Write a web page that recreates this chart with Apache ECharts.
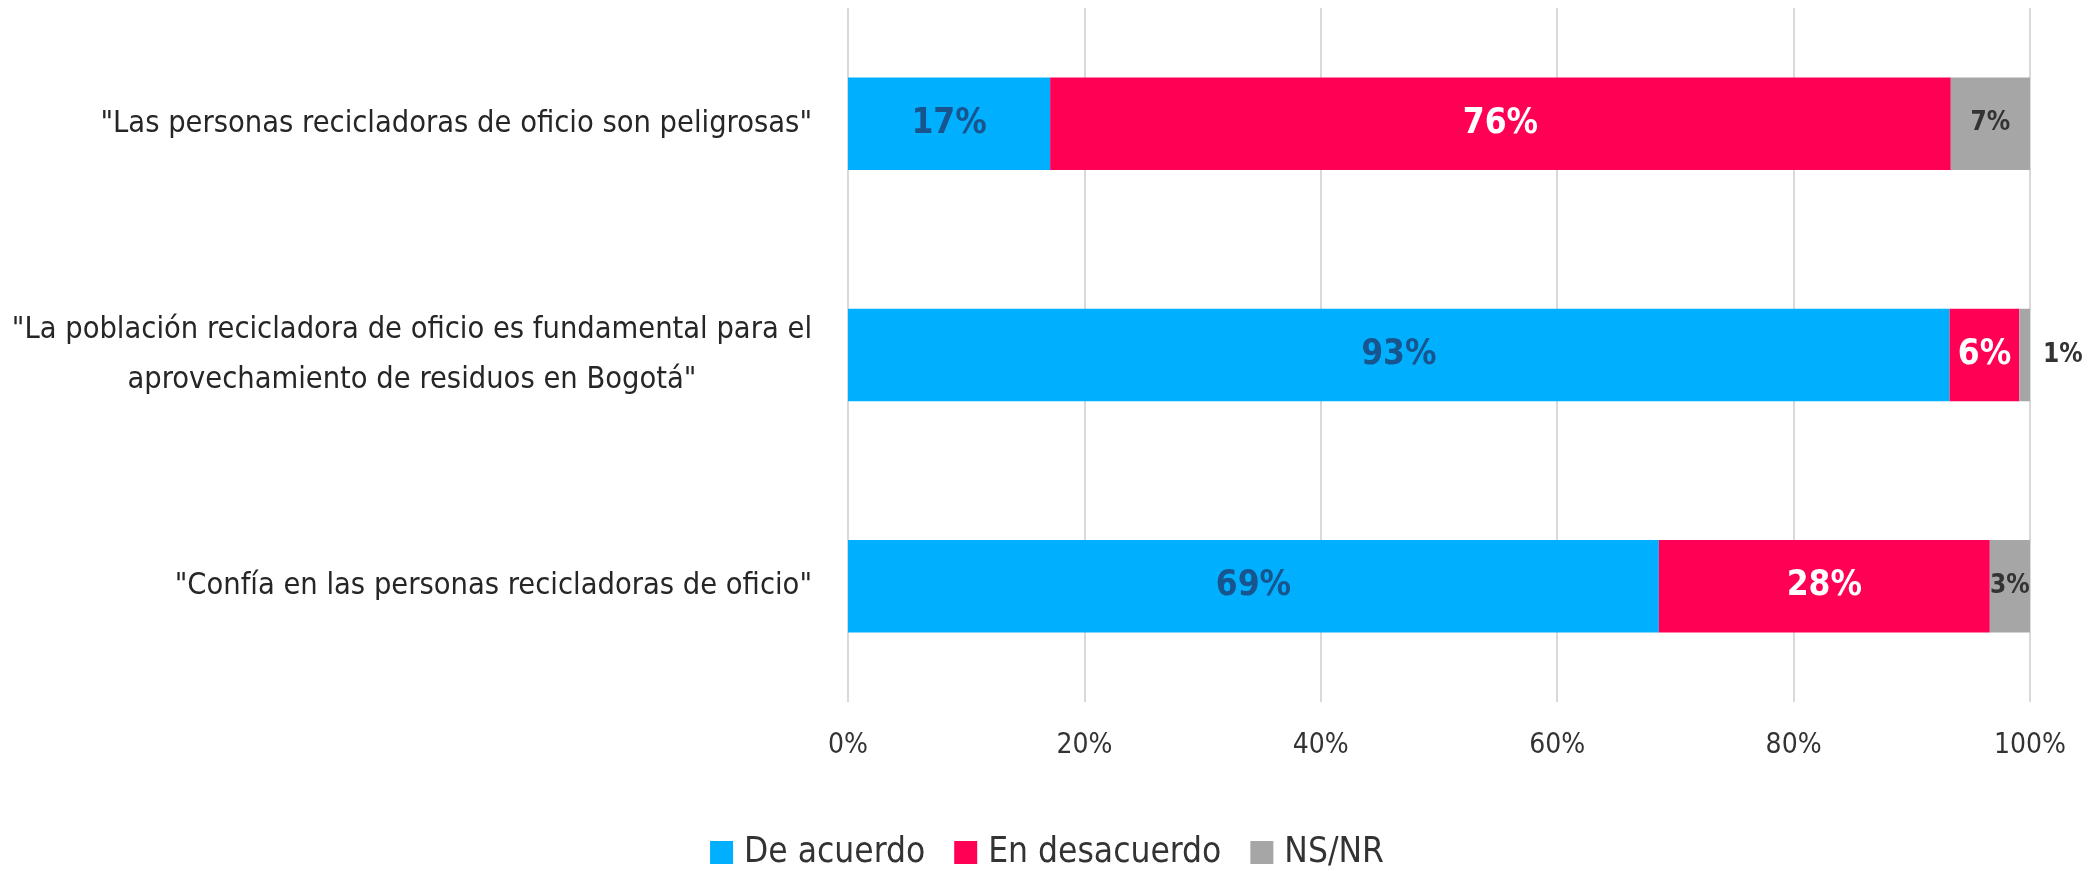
<!DOCTYPE html>
<html><head><meta charset="utf-8">
<script src="https://cdn.jsdelivr.net/npm/echarts@6/dist/echarts.min.js"></script>
<style>html,body{margin:0;padding:0;background:#fff}#c{width:2094px;height:871px}</style>
</head><body><div id="c"></div>
<script>
const categories = [
  '"Las personas recicladoras de oficio son peligrosas"',
  '"La población recicladora de oficio es fundamental para el\naprovechamiento de residuos en Bogotá"',
  '"Confía en las personas recicladoras de oficio"'
];
const seriesNames = ['De acuerdo', 'En desacuerdo', 'NS/NR'];
const deAcuerdo = [17.1, 93.2, 68.6];
const enDesacuerdo = [76.2, 5.9, 28.0];
const nsnr = [6.7, 0.9, 3.4];
const xTicks = ['0%', '20%', '40%', '60%', '80%', '100%'];

const FONT = '"DejaVu Sans Condensed", "Liberation Sans Narrow", sans-serif';
const colors = ['#00B0FF', '#FF0055', '#A6A6A6'];
const labelColors = ['#18558E', '#FFFFFF', '#333333'];

function mk(name, vals, idx) {
  return {
    name: name, type: 'bar', stack: 'total', barCategoryGap: '60%',
    itemStyle: { color: colors[idx] },
    label: {
      show: true, position: 'inside', color: labelColors[idx],
      fontFamily: FONT, fontWeight: 'bold', fontSize: idx === 2 ? 26 : 35,
      formatter: p => Math.round(p.value) + '%'
    },
    data: vals.map((v, i) => {
      if (idx === 2 && v < 2) {
        return { value: v, label: { position: 'right', distance: 13, color: '#333333', fontSize: 26 } };
      }
      return v;
    })
  };
}

const chart = echarts.init(document.getElementById('c'));
chart.setOption({
  animation: false,
  grid: { left: 848, right: 64, top: 8, bottom: 169 },
  legend: {
    top: 830, left: 'center', itemWidth: 23, itemHeight: 23, itemGap: 29,
    icon: 'rect',
    textStyle: { fontFamily: FONT, fontSize: 35, color: '#333', fontWeight: 'normal', padding: [0, 0, 0, 6] },
    data: seriesNames
  },
  xAxis: {
    type: 'value', min: 0, max: 100, interval: 20,
    axisLine: { show: false }, axisTick: { show: false },
    splitLine: { lineStyle: { color: '#D9D9D9', width: 2 } },
    axisLabel: {
      margin: 30, fontFamily: FONT, fontSize: 28, color: '#333',
      formatter: v => xTicks[v / 20]
    }
  },
  yAxis: {
    type: 'category', inverse: true, data: categories,
    axisLine: { show: false }, axisTick: { show: false },
    axisLabel: {
      margin: 36, fontFamily: FONT, fontSize: 30.5, color: '#262626', lineHeight: 50,
      formatter: v => v.split('\n').map(s => '{c|' + s + '}').join('\n'),
      rich: { c: { align: 'center', fontFamily: FONT, fontSize: 30.5, color: '#262626', lineHeight: 50 } }
    }
  },
  series: [mk(seriesNames[0], deAcuerdo, 0), mk(seriesNames[1], enDesacuerdo, 1), mk(seriesNames[2], nsnr, 2)]
});
</script></body></html>
